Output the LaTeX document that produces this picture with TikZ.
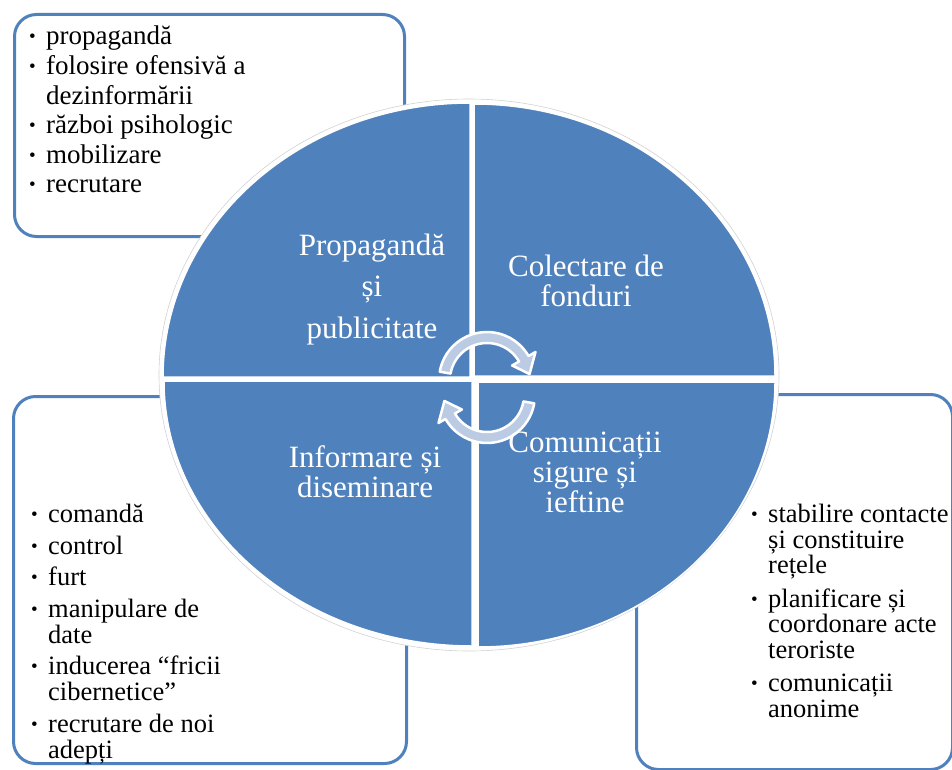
\documentclass[tikz,border=0pt]{standalone}
\usepackage{fontspec}
\setmainfont{Liberation Serif}
\usetikzlibrary{%
  positioning%
}

\definecolor{quadblue}{RGB}{79,129,189}
\definecolor{arrowgrey}{RGB}{188,203,228}

\newcommand{\bul}{\makebox[17pt][l]{\raisebox{2pt}{\fontsize{19}{19}\selectfont\textbullet}}}
\newcommand{\cont}{\hspace*{17pt}}

\begin{document}
\begin{tikzpicture}[
      x=1pt, y=1pt,
      listbox/.style={
        draw=quadblue,
        line width=3pt,
        rounded corners=22pt,
        fill=white,
        anchor=north west
      },
      listtext/.style={
        align=left,
        anchor=base west,
        inner sep=0pt,
        font=\fontsize{27}{29.6}\selectfont
      },
      quarter/.style={
        fill=quadblue,
        draw=white,
        line width=1.5pt
      },
      quadtext/.style={
        align=center,
        anchor=base,
        text=white,
        inner sep=0pt,
        font=\fontsize{31}{30}\selectfont
      },
      cyclearrow/.style={
        fill=arrowgrey,
        draw=white,
        line width=2.5pt,
        line join=round
      }
    ]
    \useasboundingbox (0,0) rectangle (952,-770);

    % list boxes behind the circle
    \node[listbox, minimum width=390pt, minimum height=222pt]
      (propbox) at (13,-13) {};
    \node[listbox, minimum width=393pt, minimum height=367pt]
      (infobox) at (12,-395) {};
    \node[listbox, minimum width=316pt, minimum height=375pt]
      (commbox) at (635,-393) {};

    % base anchor sits on the last line
    \node[listtext]
      (proplist) at (29,-193)
      {\bul propagandă\\
      \bul folosire ofensivă a\\
      \cont dezinformării\\
      \bul război psihologic\\
      \bul mobilizare\\
      \bul recrutare};

    \node[listtext, font=\fontsize{26.5}{26}\selectfont]
      (infolist) at (31,-758)
      {\bul comandă\\[5.5pt]
      \bul control\\[5.5pt]
      \bul furt\\[5.5pt]
      \bul manipulare de\\
      \cont date\\[5.5pt]
      \bul inducerea “fricii\\
      \cont cibernetice”\\[5.5pt]
      \bul recrutare de noi\\
      \cont adepți};

    \node[listtext, font=\fontsize{26.5}{25.5}\selectfont]
      (commlist) at (751,-717)
      {\bul stabilire contacte\\
      \cont și constituire\\
      \cont rețele\\[8pt]
      \bul planificare și\\
      \cont coordonare acte\\
      \cont teroriste\\[8pt]
      \bul comunicații\\
      \cont anonime};

    % circle in four quarters
    \draw[gray!35, line width=0.6pt, fill=white]
      (469,-375) ellipse[x radius=310, y radius=276];
    \draw[quarter] (470,-377) -- ++(-307,0)
      arc[start angle=180, end angle=90, x radius=307, y radius=274] -- cycle;
    \draw[quarter] (474,-376) -- ++(0,272)
      arc[start angle=90, end angle=0, x radius=301, y radius=272] -- cycle;
    \draw[quarter] (472,-381) -- ++(0,-265)
      arc[start angle=270, end angle=180, x radius=308, y radius=265] -- cycle;
    \draw[quarter] (478,-382) -- ++(297,0)
      arc[start angle=0, end angle=-90, x radius=297, y radius=265] -- cycle;

    % cycle arrows
    \foreach \cy/\rot in {-380/0, -395/180} {
      \begin{scope}[shift={(487,\cy)}, rotate=\rot]
        \draw[cyclearrow] (170:48)
          arc[start angle=170, end angle=30, radius=48]
          -- (30:56) -- (8:43) -- (30:29) -- (30:37)
          arc[start angle=30, end angle=170, radius=37] -- cycle;
      \end{scope}
    }

    \node[quadtext] (propnode) at (372,-338)
      {Propagandă\\[11.5pt] și\\[11.5pt] publicitate};
    \node[quadtext] (fundnode) at (586,-306)
      {Colectare de\\ fonduri};
    \node[quadtext] (infonode) at (365,-497)
      {Informare și\\ diseminare};
    \node[quadtext] (commnode) at (585,-512)
      {Comunicații\\ sigure și\\ ieftine};
  \end{tikzpicture}
\end{document}
